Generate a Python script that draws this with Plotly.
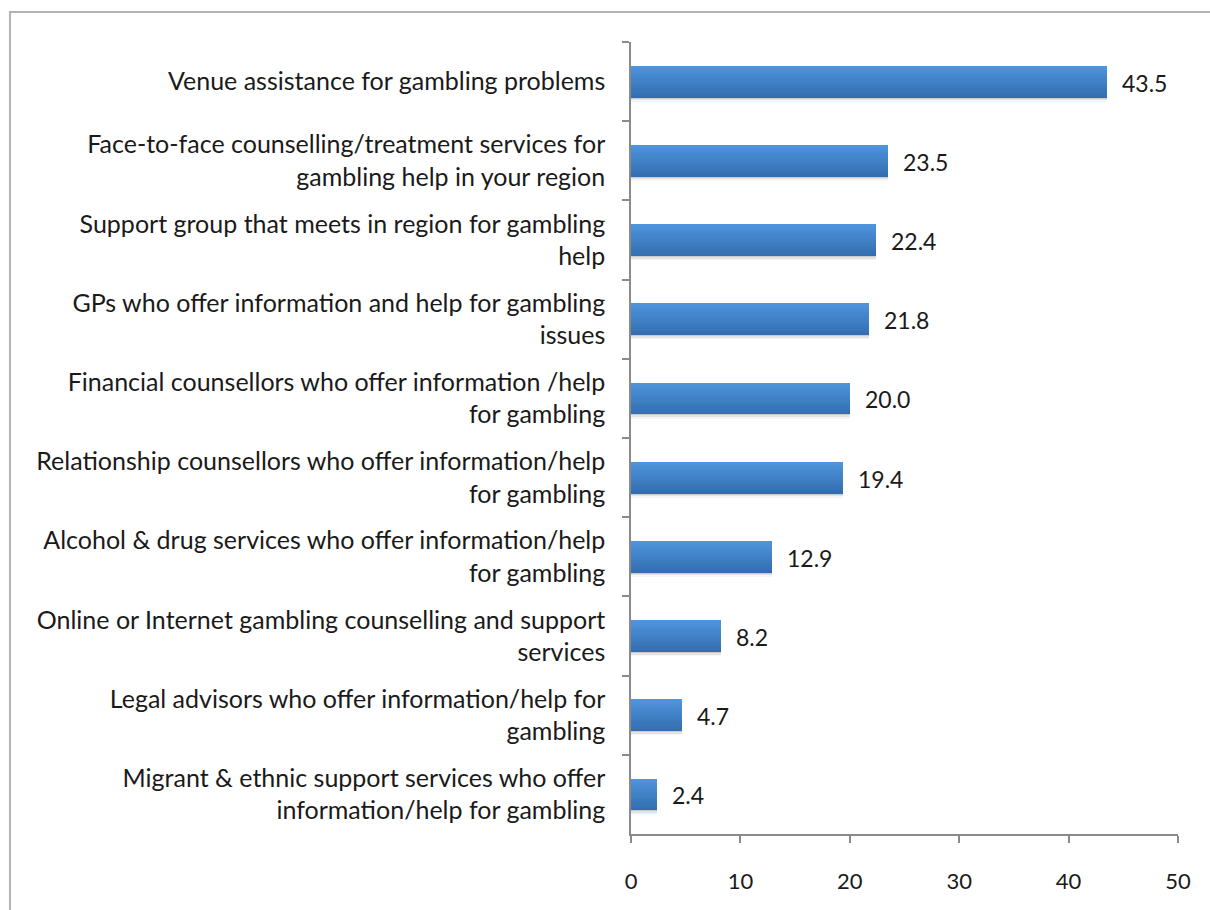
import plotly.graph_objects as go

# Categories listed top to bottom, with line breaks where the labels wrap
categories = [
    "Venue assistance for gambling problems",
    "Face-to-face counselling/treatment services for<br>gambling help in your region",
    "Support group that meets in region for gambling<br>help",
    "GPs who offer information and help for gambling<br>issues",
    "Financial counsellors who offer information /help<br>for gambling",
    "Relationship counsellors who offer information/help<br>for gambling",
    "Alcohol & drug services who offer information/help<br>for gambling",
    "Online or Internet gambling counselling and support<br>services",
    "Legal advisors who offer information/help for<br>gambling",
    "Migrant & ethnic support services who offer<br>information/help for gambling",
]
values = [43.5, 23.5, 22.4, 21.8, 20.0, 19.4, 12.9, 8.2, 4.7, 2.4]
x_ticks = [0, 10, 20, 30, 40, 50]

FONT = "Lato"
TEXT_COLOR = "#1a1a1a"
AXIS_COLOR = "#8a8a8a"
BAR_WIDTH = 0.40

fig = go.Figure()

# soft shadow under each bar
for off, alpha in [(0.0, 0.10), (0.02, 0.07), (0.04, 0.04)]:
    fig.add_trace(go.Bar(
        y=categories, x=values, orientation="h",
        width=BAR_WIDTH, offset=-BAR_WIDTH / 2 + off + 0.015,
        marker=dict(color=f"rgba(0,0,0,{alpha})", line=dict(width=0)),
        hoverinfo="skip", showlegend=False,
    ))

# vertical gradient: lighter at the top edge, darker at the bottom
top_rgb = (78, 148, 220)
bot_rgb = (52, 110, 176)
n_slices = 14
slice_w = BAR_WIDTH / n_slices
for i in range(n_slices):
    t = i / (n_slices - 1)
    r, g, b = (round(top_rgb[k] + (bot_rgb[k] - top_rgb[k]) * t) for k in range(3))
    fig.add_trace(go.Bar(
        y=categories, x=values, orientation="h",
        width=slice_w * 1.05, offset=-BAR_WIDTH / 2 + i * slice_w,
        marker=dict(color=f"rgb({r},{g},{b})", line=dict(width=0)),
        hoverinfo="skip", showlegend=False,
    ))

# value labels to the right of each bar
for cat, v in zip(categories, values):
    fig.add_annotation(
        x=v, y=cat, xref="x", yref="y",
        text=f"{v:.1f}", showarrow=False,
        xanchor="left", yanchor="middle", xshift=13, yshift=-1,
        font=dict(family=FONT, size=23, color=TEXT_COLOR),
    )

# outer frame of the chart
fig.add_shape(
    type="rect", xref="paper", yref="paper",
    x0=-1.1353, x1=2.0, y0=-1.0, y1=1.0379,
    line=dict(color="#b4b4b4", width=2), fillcolor="rgba(0,0,0,0)",
    layer="below",
)

fig.update_layout(
    width=1210, height=910,
    margin=dict(l=631, r=32, t=42, b=76),
    barmode="overlay", bargap=0,
    paper_bgcolor="white", plot_bgcolor="white",
    font=dict(family=FONT, size=21, color=TEXT_COLOR),
    showlegend=False,
)
fig.update_xaxes(
    range=[0, 50], tickvals=x_ticks, ticktext=[str(v) for v in x_ticks],
    showgrid=False, zeroline=False,
    showline=True, linecolor=AXIS_COLOR, linewidth=1.5,
    ticks="outside", ticklen=7, tickcolor=AXIS_COLOR, tickwidth=1.5,
    tickfont=dict(family=FONT, size=22, color=TEXT_COLOR),
    ticklabelstandoff=20,
)
fig.update_yaxes(
    categoryorder="array", categoryarray=categories, autorange="reversed",
    showgrid=False, zeroline=False,
    showline=True, linecolor=AXIS_COLOR, linewidth=1.5,
    ticks="outside", tickson="boundaries", ticklen=7,
    tickcolor=AXIS_COLOR, tickwidth=1.5,
    tickfont=dict(family=FONT, size=25, color=TEXT_COLOR),
    ticklabelstandoff=19,
)

fig.write_html("out.html")
